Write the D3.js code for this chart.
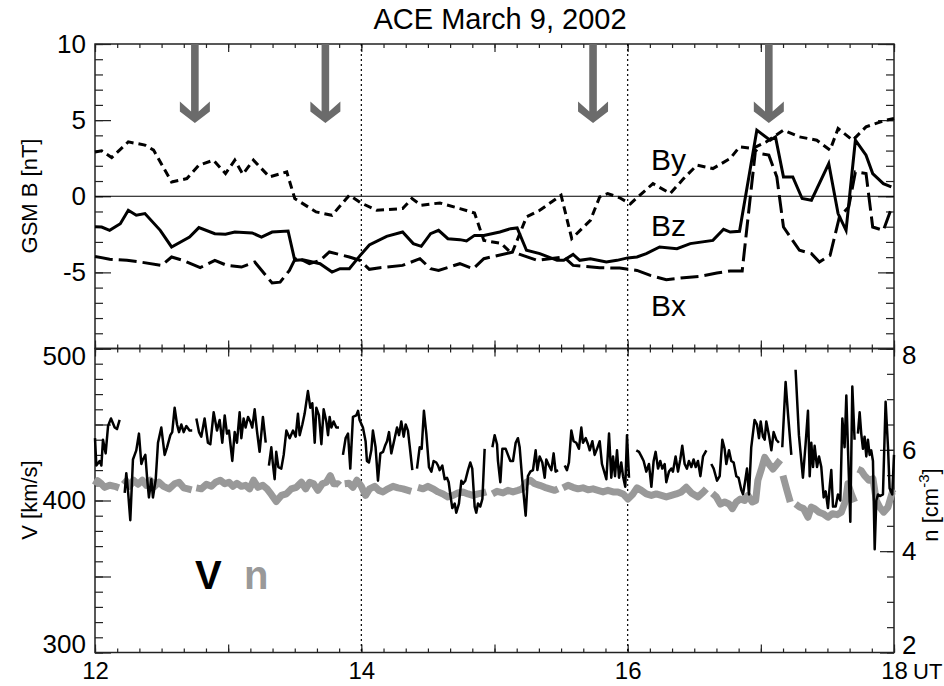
<!DOCTYPE html>
<html>
<head>
<meta charset="utf-8">
<script src="https://cdn.jsdelivr.net/npm/d3@7"></script>
<style>
  body { margin: 0; background: #fff; }
  svg text { font-family: "Liberation Sans", Arial, Helvetica, sans-serif; fill: #000; }
  .tick line { stroke: #222; stroke-width: 1.2; }
  .domain { display: none; }
</style>
</head>
<body>
<svg id="chart" width="944" height="686"></svg>
<script>
// magnetic field, GSM components [hour UT, nT]
const byData = [[12.0,2.9],[12.05,2.98],[12.125,2.54],[12.25,3.57],[12.375,3.36],[12.44,3.03],[12.575,0.94],[12.69,1.16],[12.78,2.04],[12.89,2.37],[12.98,1.49],[13.05,2.37],[13.11,1.45],[13.19,2.37],[13.31,1.27],[13.44,1.6],[13.5,-0.15],[13.66,-1.03],[13.78,-1.25],[13.91,0.07],[14.0,-0.45],[14.115,-0.92],[14.31,-0.81],[14.38,-0.15],[14.45,-0.59],[14.59,-0.44],[14.74,-0.81],[14.85,-1.1],[14.92,-2.9],[15.05,-3.1],[15.13,-3.77],[15.24,-1.36],[15.34,-0.92],[15.5,0.07],[15.58,-2.78],[15.72,-1.58],[15.79,-0.04],[15.85,0.18],[15.94,-0.1],[16.02,-0.5],[16.07,-0.1],[16.19,0.83],[16.32,0.18],[16.42,1.16],[16.52,2.04],[16.64,1.82],[16.77,2.48],[16.84,3.24],[16.94,3.14],[17.04,3.57],[17.17,4.34],[17.29,3.9],[17.42,3.68],[17.52,3.03],[17.58,4.45],[17.69,3.68],[17.79,4.56],[17.94,5.0],[18.0,5.11]];
const bzData = [[12.0,-2.0],[12.05,-2.02],[12.11,-2.24],[12.19,-1.8],[12.25,-0.92],[12.31,-1.25],[12.375,-1.14],[12.49,-2.24],[12.575,-3.33],[12.71,-2.68],[12.78,-2.06],[12.9,-2.46],[12.98,-2.5],[13.05,-2.35],[13.18,-2.41],[13.25,-2.68],[13.33,-2.35],[13.45,-2.28],[13.5,-4.21],[13.56,-4.17],[13.69,-4.43],[13.78,-4.98],[13.84,-4.76],[13.91,-4.76],[13.99,-3.9],[14.06,-3.2],[14.19,-2.63],[14.31,-2.35],[14.39,-3.11],[14.45,-3.29],[14.52,-2.46],[14.58,-2.24],[14.65,-2.79],[14.74,-2.85],[14.79,-2.94],[14.85,-2.57],[14.92,-2.57],[15.04,-2.35],[15.12,-2.13],[15.17,-2.08],[15.24,-3.55],[15.34,-3.77],[15.47,-4.21],[15.52,-4.21],[15.59,-3.82],[15.64,-4.21],[15.72,-4.1],[15.84,-4.32],[15.92,-4.21],[16.0,-4.05],[16.07,-3.99],[16.14,-3.77],[16.24,-3.33],[16.37,-3.44],[16.47,-3.11],[16.64,-2.9],[16.72,-2.17],[16.77,-2.35],[16.84,-2.3],[16.91,1.27],[16.97,4.34],[17.07,3.68],[17.11,3.9],[17.17,1.27],[17.24,1.27],[17.31,-0.15],[17.38,-0.26],[17.51,2.15],[17.58,-1.14],[17.64,-2.24],[17.71,3.68],[17.79,2.7],[17.84,1.49],[17.92,0.83],[17.98,0.61]];
const bxData = [[12.0,-3.95],[12.11,-4.14],[12.24,-4.21],[12.34,-4.32],[12.5,-4.54],[12.575,-3.99],[12.66,-4.21],[12.79,-4.69],[12.9,-4.21],[12.99,-4.54],[13.1,-4.65],[13.2,-4.32],[13.33,-5.7],[13.39,-5.64],[13.46,-4.87],[13.51,-3.99],[13.61,-4.43],[13.69,-4.21],[13.76,-3.66],[13.91,-3.99],[13.99,-4.21],[14.06,-4.8],[14.14,-4.69],[14.31,-4.54],[14.44,-4.1],[14.52,-4.76],[14.58,-4.87],[14.74,-4.43],[14.84,-4.76],[14.92,-4.1],[15.14,-3.66],[15.19,-3.82],[15.32,-4.21],[15.52,-3.99],[15.59,-4.54],[15.79,-4.69],[15.94,-4.72],[16.07,-4.87],[16.17,-5.2],[16.29,-5.48],[16.42,-5.35],[16.54,-5.26],[16.67,-5.04],[16.77,-4.91],[16.86,-4.91],[16.91,-0.92],[16.96,3.03],[16.99,2.81],[17.06,2.7],[17.12,1.27],[17.17,-2.02],[17.29,-3.55],[17.38,-3.77],[17.44,-4.32],[17.52,-3.88],[17.59,-1.36],[17.66,-0.7],[17.71,1.6],[17.79,1.49],[17.84,-2.02],[17.92,-2.24],[17.98,-0.81]];

// solar wind speed [hour, km/s], null = data gap
const vData = [
[12.0,441],[12.01,423],[12.035,426],[12.048,423],[12.06,440],[12.08,431],[12.098,449],[12.12,454],[12.148,448],[12.165,447],[12.185,453], null,
[12.223,405],[12.235,418],[12.25,404],[12.265,387],[12.285,427],[12.31,433],[12.33,444],[12.348,424],[12.36,427],[12.378,430],[12.393,413],[12.405,402],[12.423,414],[12.435,402],[12.456,414],[12.473,438],[12.498,448],[12.523,430],[12.541,435],[12.566,443],[12.58,445],[12.598,461],[12.616,450],[12.631,445],[12.648,450],[12.666,445],[12.686,449],[12.71,446],[12.73,446], null,
[12.761,454],[12.781,445],[12.798,442],[12.823,454],[12.848,438],[12.866,437],[12.891,458],[12.916,446],[12.936,453],[12.956,438],[12.974,456],[12.991,444],[13.006,446],[13.016,438],[13.031,426],[13.049,445],[13.066,438],[13.086,458],[13.099,441],[13.116,454],[13.131,448],[13.149,455],[13.166,452],[13.181,448],[13.199,460],[13.216,446],[13.236,432],[13.261,455],[13.282,438], null,
[13.306,423],[13.324,435],[13.336,424],[13.349,414],[13.361,432],[13.377,422],[13.399,421],[13.417,430],[13.437,446],[13.462,441],[13.487,446],[13.507,442],[13.524,457],[13.537,443],[13.557,450],[13.574,457],[13.599,472],[13.617,461],[13.632,464],[13.65,438],[13.662,461],[13.682,456],[13.7,437],[13.717,460],[13.737,452],[13.75,443],[13.762,455],[13.775,448],[13.792,452],[13.812,448],[13.832,448], null,
[13.862,430],[13.882,441],[13.9,444],[13.917,421],[13.937,455],[13.962,456],[13.975,459],[13.987,453],[14.012,448],[14.032,439],[14.042,426],[14.057,425],[14.075,433],[14.087,446],[14.107,435],[14.125,413],[14.143,431],[14.163,432],[14.178,436],[14.193,439],[14.208,445],[14.225,431],[14.243,438],[14.268,448],[14.283,443],[14.3,452],[14.318,442],[14.333,450],[14.35,446],[14.363,436],[14.383,420], null,
[14.418,421],[14.438,435],[14.453,434],[14.47,459],[14.488,444],[14.508,422],[14.526,419],[14.543,426],[14.563,425],[14.576,423],[14.588,420],[14.608,423],[14.626,414],[14.643,415],[14.656,412],[14.668,404],[14.683,395],[14.701,398],[14.713,392],[14.733,398],[14.751,413],[14.763,411],[14.781,413],[14.801,420],[14.818,425],[14.833,421],[14.851,396],[14.863,392],[14.876,398],[14.893,396],[14.909,401],[14.926,434], null,
[14.984,435],[15.001,443],[15.019,437],[15.026,426],[15.044,412],[15.059,434],[15.084,434],[15.101,430],[15.119,426],[15.139,426],[15.159,438],[15.176,441],[15.189,435],[15.209,413],[15.234,390],[15.251,416],[15.269,419],[15.289,420],[15.309,433],[15.322,420],[15.339,429],[15.359,425],[15.377,415],[15.389,427],[15.409,423],[15.427,420],[15.444,431],[15.459,419],[15.477,420], null,
[15.527,423],[15.544,420],[15.559,425],[15.577,446],[15.594,439],[15.614,438],[15.634,434],[15.652,448],[15.664,438],[15.685,441],[15.702,437],[15.715,433],[15.735,439],[15.752,430],[15.77,434],[15.79,439],[15.807,424],[15.84,414],[15.86,444],[15.877,415],[15.89,429],[15.905,416],[15.92,433],[15.935,415],[15.952,425],[15.965,416],[15.982,409],[15.995,443],[16.01,415], null,
[16.065,433],[16.085,432],[16.103,429],[16.12,426],[16.14,419],[16.16,424],[16.178,409],[16.195,426],[16.21,432],[16.228,421],[16.245,426],[16.26,421],[16.278,424],[16.29,412],[16.31,419],[16.328,421],[16.34,419],[16.36,429],[16.378,419],[16.395,427],[16.41,436],[16.428,424],[16.445,421],[16.46,426],[16.478,422],[16.495,427],[16.511,422],[16.528,426],[16.546,416],[16.566,429],[16.591,433], null,
[16.628,424],[16.646,421],[16.671,413],[16.691,416],[16.711,440],[16.728,434],[16.741,424],[16.761,433],[16.778,426],[16.796,425],[16.816,416],[16.833,415],[16.853,407],[16.866,404],[16.881,412],[16.896,421],[16.911,404],[16.928,435],[16.953,453],[16.971,450],[16.986,441],[16.999,452],[17.016,442],[17.029,440],[17.041,452],[17.061,443],[17.079,433],[17.096,445],[17.116,440],[17.136,438], null,
[17.161,435],[17.186,478],[17.204,457],[17.229,430], null,
[17.261,486],[17.286,443],[17.316,415],[17.336,437],[17.354,459],[17.367,416],[17.379,438],[17.392,422],[17.404,436],[17.422,422],[17.437,429],[17.454,422],[17.472,402],[17.487,406],[17.504,395],[17.517,409],[17.529,420],[17.542,396],[17.562,396],[17.579,404],[17.597,400],[17.612,454],[17.629,435],[17.642,469],[17.654,435],[17.672,386],[17.687,475],[17.704,440], null,
[17.729,444],[17.742,458],[17.754,444],[17.767,434],[17.779,442],[17.792,429],[17.804,440],[17.817,430],[17.829,433],[17.842,426],[17.855,368],[17.867,400],[17.88,404],[17.897,403],[17.917,404],[17.937,465],[17.955,435],[17.967,408],[17.987,404],[18.0,430]
];

// proton density [hour, cm^-3], null = data gap
const nData = [
[12.0,5.30],[12.02,5.39],[12.048,5.33],[12.073,5.26],[12.11,5.30],[12.148,5.28],[12.18,5.25], null,
[12.215,5.32],[12.235,5.38],[12.26,5.28],[12.29,5.40],[12.323,5.32],[12.355,5.40],[12.385,5.30],[12.415,5.40],[12.448,5.28],[12.48,5.36],[12.515,5.28],[12.556,5.23],[12.598,5.33],[12.631,5.36],[12.666,5.25],[12.698,5.23],[12.726,5.21], null,
[12.761,5.25],[12.798,5.23],[12.836,5.32],[12.874,5.28],[12.906,5.36],[12.941,5.40],[12.974,5.33],[13.006,5.36],[13.036,5.28],[13.066,5.34],[13.099,5.28],[13.131,5.30],[13.161,5.23],[13.191,5.40],[13.224,5.26],[13.261,5.30],[13.292,5.23],[13.324,5.12],[13.361,4.98],[13.399,5.10],[13.437,5.13],[13.474,5.23],[13.512,5.26],[13.55,5.36],[13.582,5.23],[13.612,5.36],[13.642,5.33],[13.674,5.20],[13.707,5.33],[13.737,5.36],[13.767,5.49],[13.792,5.33],[13.825,5.33],[13.837,5.30], null,
[13.875,5.33],[13.907,5.34],[13.937,5.26],[13.967,5.40],[14.0,5.28],[14.032,5.10],[14.062,5.23],[14.1,5.28],[14.132,5.20],[14.163,5.17],[14.2,5.23],[14.238,5.28],[14.275,5.25],[14.313,5.23],[14.35,5.20],[14.375,5.18], null,
[14.425,5.26],[14.463,5.23],[14.5,5.28],[14.538,5.23],[14.576,5.17],[14.613,5.13],[14.65,5.07],[14.688,5.10],[14.726,5.15],[14.763,5.17],[14.801,5.13],[14.838,5.10],[14.876,5.13],[14.913,5.15],[14.938,5.17], null,
[14.984,5.13],[15.019,5.18],[15.064,5.15],[15.101,5.20],[15.139,5.17],[15.176,5.20],[15.209,5.23],[15.239,5.36],[15.269,5.40],[15.302,5.33],[15.339,5.30],[15.377,5.26],[15.414,5.23],[15.452,5.20],[15.477,5.23], null,
[15.514,5.25],[15.552,5.30],[15.589,5.26],[15.627,5.23],[15.664,5.25],[15.702,5.21],[15.74,5.23],[15.777,5.20],[15.815,5.17],[15.852,5.20],[15.89,5.17],[15.927,5.17],[15.965,5.13],[16.002,5.03],[16.04,5.13],[16.07,5.25],[16.103,5.20],[16.14,5.13],[16.178,5.10],[16.215,5.13],[16.253,5.10],[16.29,5.07],[16.328,5.10],[16.365,5.13],[16.403,5.17],[16.44,5.26],[16.478,5.15],[16.528,5.07],[16.566,5.16],[16.591,5.23], null,
[16.636,5.14],[16.666,5.07],[16.696,4.93],[16.728,4.97],[16.761,4.93],[16.786,4.84],[16.816,4.97],[16.846,5.03],[16.878,5.00],[16.903,5.10],[16.936,4.97],[16.961,5.00],[16.978,5.40],[17.004,5.62],[17.029,5.85],[17.061,5.72],[17.091,5.62],[17.116,5.70],[17.146,5.80], null,
[17.166,5.49],[17.196,5.20],[17.221,4.97], null,
[17.261,4.93],[17.291,4.87],[17.321,4.84],[17.354,4.67],[17.379,4.87],[17.404,4.84],[17.437,4.77],[17.467,4.74],[17.504,4.67],[17.537,4.74],[17.572,4.72],[17.604,4.77],[17.637,5.00],[17.654,5.33],[17.679,5.13],[17.704,4.97], null,
[17.729,5.62],[17.754,5.59],[17.779,5.49],[17.812,5.40],[17.842,5.43],[17.867,5.00],[17.892,4.87],[17.922,4.77],[17.955,4.87],[17.987,5.16],[18.0,5.13]
];

const arrowTimes = [12.75, 13.73, 15.74, 17.06];
const dottedTimes = [14, 16];
const xLabels = [12, 14, 16, 18];
const bLabels = [-5, 0, 5, 10];
const vLabels = [300, 400, 500];
const nLabels = [2, 4, 6, 8];

const svg = d3.select('#chart');
const L = 95, R = 894, T1 = 44, B1 = 348.5, T2 = 348.5, B2 = 652.5;

const x = d3.scaleLinear().domain([12, 18]).range([L, R]);
const yB = d3.scaleLinear().domain([-10, 10]).range([B1, T1]);
const yV = d3.scaleLinear().domain([300, 500]).range([B2, T2]);
const yN = d3.scaleLinear().domain([2, 8]).range([B2, T2]);

const minorX = d3.range(0, 37).map(i => 12 + i / 6);
const hourX = d3.range(12, 19);

// tick helper, ticks always point inward (negative size)
function tickRow(axis, vals, size, tx, ty) {
    svg.append('g')
        .attr('transform', `translate(${tx},${ty})`)
        .call(axis.tickValues(vals).tickSize(-size).tickFormat(''));
}

// x ticks on every horizontal border
[[d3.axisTop, T1], [d3.axisBottom, B1], [d3.axisTop, T2], [d3.axisBottom, B2]].forEach(([fn, yy]) => {
    tickRow(fn(x), minorX, 4, 0, yy);
    tickRow(fn(x), hourX, 8, 0, yy);
});

// top panel y ticks
tickRow(d3.axisLeft(yB), d3.range(-10, 11), 8, L, 0);
tickRow(d3.axisLeft(yB), [-10, -5, 0, 5, 10], 16, L, 0);
tickRow(d3.axisRight(yB), d3.range(-10, 11), 8, R, 0);
tickRow(d3.axisRight(yB), [-10, -5, 0, 5, 10], 16, R, 0);

// bottom panel: V on the left, n on the right
tickRow(d3.axisLeft(yV), d3.range(300, 501, 10), 8, L, 0);
tickRow(d3.axisLeft(yV), [300, 350, 400, 450, 500], 16, L, 0);
tickRow(d3.axisRight(yN), d3.range(2, 8.01, 0.5), 7, R, 0);
tickRow(d3.axisRight(yN), [2, 4, 6, 8], 14, R, 0);

// tick labels
function labels(axis, vals, tx, ty, pad, size) {
    const g = svg.append('g')
        .attr('transform', `translate(${tx},${ty})`)
        .call(axis.tickValues(vals).tickSize(0).tickPadding(pad).tickFormat(d => d));
    g.selectAll('text').style('font-size', size + 'px').attr('fill', '#000');
    return g;
}
labels(d3.axisBottom(x), xLabels, 0, B2, 9, 24);
labels(d3.axisLeft(yB), bLabels, L, 0, 9, 26);
const gv = labels(d3.axisLeft(yV), vLabels, L, 0, 9, 26);
gv.selectAll('text').filter(d => d === 500).attr('y', 8);
gv.selectAll('text').filter(d => d === 300).attr('y', -8);
const gn = labels(d3.axisRight(yN), nLabels, R, 0, 8, 26);
gn.selectAll('text').filter(d => d === 8).attr('y', 7);
gn.selectAll('text').filter(d => d === 2).attr('y', -7);

svg.append('text')
    .attr('x', x(18) + 19).attr('y', B2 + 26)
    .style('font-size', '22px')
    .text('UT');

// frames
[[T1, B1], [T2, B2]].forEach(([t, b]) => {
    svg.append('rect')
        .attr('x', L).attr('y', t)
        .attr('width', R - L).attr('height', b - t)
        .attr('fill', 'none')
        .attr('stroke', '#222')
        .attr('stroke-width', 1.5);
});

// dotted hour markers
svg.selectAll('line.dotted')
    .data(dottedTimes)
    .enter()
    .append('line')
    .attr('class', 'dotted')
    .attr('x1', d => x(d)).attr('x2', d => x(d))
    .attr('y1', T1).attr('y2', B2)
    .attr('stroke', '#000')
    .attr('stroke-width', 1.2)
    .attr('stroke-dasharray', '2,3');

// zero line
svg.append('line')
    .attr('x1', L).attr('x2', R)
    .attr('y1', yB(0)).attr('y2', yB(0))
    .attr('stroke', '#000')
    .attr('stroke-width', 1);

// field components
const lineB = d3.line().x(d => x(d[0])).y(d => yB(d[1]));
const bSeries = [
    { data: byData, dash: '8,5' },
    { data: bzData, dash: null },
    { data: bxData, dash: '18,6' }
];
bSeries.forEach(s => {
    svg.append('path')
        .datum(s.data)
        .attr('d', lineB)
        .attr('fill', 'none')
        .attr('stroke', '#000')
        .attr('stroke-width', 3)
        .attr('stroke-linejoin', 'miter')
        .attr('stroke-dasharray', s.dash);
});

// density (thick grey) below speed
const lineN = d3.line().defined(d => d).x(d => x(d[0])).y(d => yN(d[1]));
svg.append('path')
    .datum(nData)
    .attr('d', lineN)
    .attr('fill', 'none')
    .attr('stroke', '#999')
    .attr('stroke-width', 7)
    .attr('stroke-linejoin', 'round');

const lineV = d3.line().defined(d => d).x(d => x(d[0])).y(d => yV(d[1]));
svg.append('path')
    .datum(vData)
    .attr('d', lineV)
    .attr('fill', 'none')
    .attr('stroke', '#000')
    .attr('stroke-width', 2.5)
    .attr('stroke-linejoin', 'round');

// arrows
function arrowPath(cx) {
    const top = T1, tip = 123, headTop = 101.5, headMid = 111.5, hw = 15, sw = 3.8;
    return `M${cx - sw},${top} L${cx + sw},${top} L${cx + sw},${headMid} L${cx + hw},${headTop} L${cx + hw},${headMid}`
        + ` L${cx},${tip} L${cx - hw},${headMid} L${cx - hw},${headTop} L${cx - sw},${headMid} Z`;
}
svg.selectAll('path.arrow')
    .data(arrowTimes)
    .enter()
    .append('path')
    .attr('class', 'arrow')
    .attr('d', d => arrowPath(x(d)))
    .attr('fill', '#6b6b6b');

// curve names
[['By', 170], ['Bz', 236], ['Bx', 316]].forEach(([t, yy]) => {
    svg.append('text')
        .attr('x', 651).attr('y', yy)
        .style('font-size', '30px')
        .text(t);
});

// V / n legend
svg.append('text').attr('x', 195).attr('y', 589)
    .style('font-size', '40px').style('font-weight', 'bold')
    .text('V');
svg.append('text').attr('x', 244).attr('y', 589)
    .style('font-size', '40px').style('font-weight', 'bold')
    .style('fill', '#999')
    .text('n');

// title
svg.append('text')
    .attr('x', 500).attr('y', 29)
    .attr('text-anchor', 'middle')
    .style('font-size', '29px')
    .text('ACE March 9, 2002');

// axis titles
svg.append('text')
    .attr('transform', 'translate(37,196) rotate(-90)')
    .attr('text-anchor', 'middle')
    .style('font-size', '22px')
    .text('GSM B [nT]');
svg.append('text')
    .attr('transform', 'translate(37,500) rotate(-90)')
    .attr('text-anchor', 'middle')
    .style('font-size', '22px')
    .text('V [km/s]');
const nt = svg.append('text')
    .attr('transform', 'translate(938,505) rotate(-90)')
    .attr('text-anchor', 'middle')
    .style('font-size', '22px');
nt.append('tspan').text('n [cm');
nt.append('tspan').attr('dy', -9).style('font-size', '15px').text('-3');
nt.append('tspan').attr('dy', 9).text(']');
</script>
</body>
</html>
